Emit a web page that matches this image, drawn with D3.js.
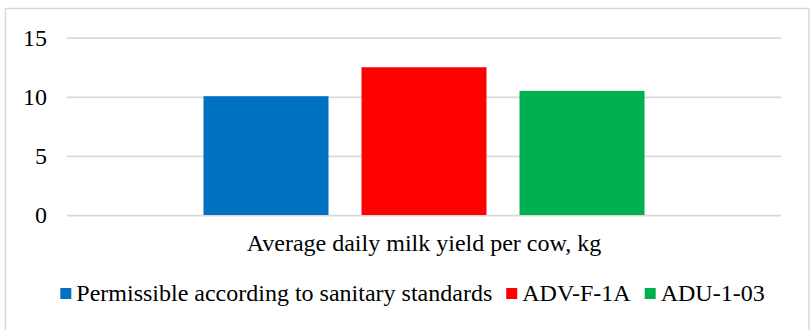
<!DOCTYPE html>
<html>
<head>
<meta charset="utf-8">
<script src="https://cdn.jsdelivr.net/npm/d3@7"></script>
<style>
  html, body { margin: 0; padding: 0; background: #fff; }
</style>
</head>
<body>
<div id="chart"></div>
<script>
// Chart data
var categories = ["Average daily milk yield per cow, kg"];
var seriesNames = ["Permissible according to sanitary standards", "ADV-F-1A", "ADU-1-03"];
var seriesValues = [10.05, 12.5, 10.5];
var seriesColors = ["#0070C0", "#FF0000", "#00B050"];
var yTicks = [0, 5, 10, 15];

var FONT = "Liberation Serif";

// Font set on each text itself
var setFont = function (sel) {
  sel.attr("font-family", FONT)
    .attr("font-size", 24)
    .attr("fill", "#000");
};

var MilkChart = function () {
  var width = 811, height = 330;
  var plot = { left: 67, right: 781, top: 37.7, bottom: 215 };

  var loadChart = function (div) {
    var svg = d3.select(div).append("svg")
      .attr("width", width)
      .attr("height", height);

    // Chart border
    svg.append("rect")
      .attr("x", 5.5)
      .attr("y", 8.5)
      .attr("width", 803.5)
      .attr("height", 340)
      .attr("fill", "none")
      .attr("stroke", "#d9d9d9")
      .attr("stroke-width", 1.5);

    var y = d3.scaleLinear()
      .domain([0, 15])
      .range([plot.bottom, plot.top]);

    var x0 = d3.scaleBand()
      .domain(categories)
      .range([plot.left, plot.right])
      .paddingInner(0)
      .paddingOuter(0.3095);

    var x1 = d3.scaleBand()
      .domain(seriesNames)
      .range([0, x0.bandwidth()])
      .paddingInner(33 / 158)
      .paddingOuter(0);

    // Gridlines and y labels
    var yAxis = d3.axisLeft(y)
      .tickValues(yTicks)
      .tickSize(-(plot.right - plot.left))
      .tickPadding(20)
      .tickFormat(d3.format("d"));

    var gy = svg.append("g")
      .attr("transform", "translate(" + plot.left + ",0)")
      .call(yAxis);
    gy.attr("font-family", null).attr("font-size", null);
    gy.select(".domain").remove();
    gy.selectAll(".tick line")
      .attr("stroke", "#d9d9d9")
      .attr("stroke-width", 1.75);
    gy.selectAll(".tick text")
      .call(setFont)
      .attr("dy", "0.33em");

    // Bars
    var bars = seriesNames.map(function (name, i) {
      return { name: name, value: seriesValues[i], color: seriesColors[i], cat: categories[0] };
    });

    svg.append("g").selectAll("rect")
      .data(bars)
      .enter().append("rect")
      .attr("x", function (d) { return x0(d.cat) + x1(d.name); })
      .attr("y", function (d) { return y(d.value); })
      .attr("width", x1.bandwidth())
      .attr("height", function (d) { return y(0) - y(d.value); })
      .attr("fill", function (d) { return d.color; });

    // Category label
    var xAxis = d3.axisBottom(x0).tickSize(0).tickPadding(19);
    var gx = svg.append("g")
      .attr("transform", "translate(0," + plot.bottom + ")")
      .call(xAxis);
    gx.attr("font-family", null).attr("font-size", null);
    gx.select(".domain").remove();
    gx.selectAll(".tick text").call(setFont);

    // Legend
    var legend = svg.append("g");
    var items = legend.selectAll("g")
      .data(bars)
      .enter().append("g");

    items.append("rect")
      .attr("y", 288)
      .attr("width", 11)
      .attr("height", 11)
      .attr("fill", function (d) { return d.color; });

    items.append("text")
      .attr("x", 16)
      .attr("y", 300.5)
      .call(setFont)
      .text(function (d) { return d.name; });

    var pos = 0;
    items.each(function () {
      var g = d3.select(this);
      g.attr("transform", "translate(" + pos + ",0)");
      pos += 16 + g.select("text").node().getComputedTextLength() + 14;
    });
    var total = pos - 14;
    legend.attr("transform", "translate(" + (412.5 - total / 2) + ",0)");
  };

  return {
    load: function (div) {
      loadChart(div);
    }
  };
};

var chart = new MilkChart();
chart.load("#chart");
</script>
</body>
</html>
